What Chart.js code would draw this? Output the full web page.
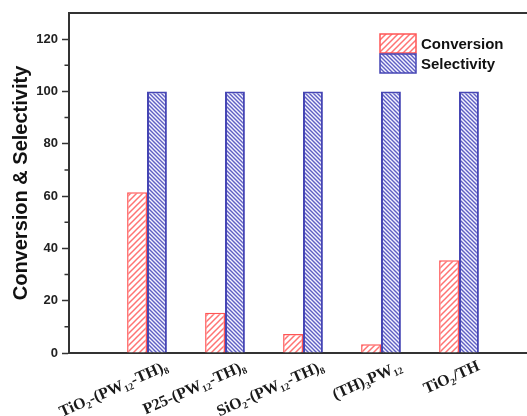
<!DOCTYPE html>
<html>
<head>
<meta charset="utf-8">
<script src="https://cdn.jsdelivr.net/npm/chart.js@4"></script>
<style>
  html, body { margin: 0; padding: 0; background: #fff; overflow: hidden; }
  canvas { display: block; }
</style>
</head>
<body>
<canvas id="c" width="545" height="416"></canvas>
<script>
// Catalysts compared
const categories = [
  'TiO\u2082-(PW\u2081\u2082-TH)\u2088',
  'P25-(PW\u2081\u2082-TH)\u2088',
  'SiO\u2082-(PW\u2081\u2082-TH)\u2088',
  '(TH)\u2083PW\u2081\u2082',
  'TiO\u2082/TH'
];
// Conversion and selectivity, %
const conversion = [61.5, 15.4, 7.3, 3.3, 35.5];
const selectivity = [100, 100, 100, 100, 100];
// Labelled y ticks
const yTicks = [0, 20, 40, 60, 80, 100, 120];
const yMinorTicks = [10, 30, 50, 70, 90, 110];

const canvas = document.getElementById('c');
const ctx = canvas.getContext('2d');

// Diagonal hatch fill
function hatch(fg, bg, size, lw, dir) {
  const c = document.createElement('canvas');
  c.width = c.height = size;
  const g = c.getContext('2d');
  g.fillStyle = bg;
  g.fillRect(0, 0, size, size);
  g.strokeStyle = fg;
  g.lineWidth = lw;
  g.beginPath();
  if (dir === '/') {
    g.moveTo(0, size); g.lineTo(size, 0);
    g.moveTo(-size / 2, size / 2); g.lineTo(size / 2, -size / 2);
    g.moveTo(size / 2, size * 1.5); g.lineTo(size * 1.5, size / 2);
  } else {
    g.moveTo(0, 0); g.lineTo(size, size);
    g.moveTo(-size / 2, size / 2); g.lineTo(size / 2, size * 1.5);
    g.moveTo(size / 2, -size / 2); g.lineTo(size * 1.5, size / 2);
  }
  g.stroke();
  return ctx.createPattern(c, 'repeat');
}

const redFill = hatch('rgb(255,115,115)', '#ffffff', 6, 1.5, '/');
const blueFill = hatch('rgb(95,95,195)', '#f4f4ff', 4, 1.4, '\\');

const AXIS = '#333333';

// Frame, minor ticks and legend
const decorations = {
  id: 'decorations',
  afterDraw(chart) {
    const { ctx, chartArea: a, scales } = chart;
    ctx.save();
    ctx.strokeStyle = AXIS;
    ctx.lineWidth = 2;
    ctx.beginPath();
    ctx.moveTo(a.left, a.top);
    ctx.lineTo(a.right, a.top);
    ctx.lineTo(a.right, a.bottom);
    ctx.stroke();

    ctx.lineWidth = 1.5;
    ctx.beginPath();
    yMinorTicks.forEach(v => {
      const y = scales.y.getPixelForValue(v);
      ctx.moveTo(a.left - 4.5, y);
      ctx.lineTo(a.left, y);
    });
    ctx.stroke();

    // legend
    const bx = 380, bw = 36, bh = 19;
    const tops = [34, 54];
    chart.data.datasets.forEach((ds, i) => {
      const y = tops[i];
      ctx.fillStyle = ds.backgroundColor;
      ctx.fillRect(bx, y, bw, bh);
      ctx.strokeStyle = ds.borderColor;
      ctx.lineWidth = 1.5;
      ctx.strokeRect(bx, y, bw, bh);
      ctx.fillStyle = '#111';
      ctx.font = 'bold 15px "Liberation Sans", Arial, sans-serif';
      ctx.textBaseline = 'middle';
      ctx.textAlign = 'left';
      ctx.fillText(ds.label, bx + bw + 5, y + bh / 2 + 1);
    });
    ctx.restore();
  }
};

new Chart(ctx, {
  type: 'bar',
  data: {
    datasets: [
      {
        label: 'Conversion',
        data: conversion.map((v, i) => ({ x: i + 1, y: v })),
        backgroundColor: redFill,
        borderColor: 'rgb(255,85,85)',
        borderWidth: 1.5
      },
      {
        label: 'Selectivity',
        data: selectivity.map((v, i) => ({ x: i + 1, y: v })),
        backgroundColor: blueFill,
        borderColor: 'rgb(70,70,180)',
        borderWidth: 2
      }
    ]
  },
  options: {
    responsive: false,
    animation: false,
    layout: { padding: { top: 13, right: 8, left: 0, bottom: 0 } },
    datasets: { bar: { categoryPercentage: 0.51, barPercentage: 1.0 } },
    plugins: { legend: { display: false }, tooltip: { enabled: false } },
    scales: {
      x: {
        type: 'linear',
        offset: false,
        min: 0,
        max: 6,
        afterBuildTicks(scale) {
          scale.ticks = categories.map((c, i) => ({ value: i + 1 }));
        },
        afterFit(scale) { scale.height = 63; },
        grid: { display: false, drawTicks: false },
        border: { display: true, color: AXIS, width: 2 },
        ticks: {
          autoSkip: false,
          minRotation: 24,
          maxRotation: 24,
          padding: 4,
          labelOffset: 20,
          color: '#1a1a1a',
          font: { family: '"Liberation Serif", "Times New Roman", serif', weight: 'bold', size: 16 },
          callback: v => categories[v - 1] || ''
        }
      },
      y: {
        min: 0,
        max: 130,
        afterBuildTicks(scale) {
          scale.ticks = yTicks.map(v => ({ value: v }));
        },
        afterFit(scale) { scale.width = 69; },
        grid: { drawOnChartArea: false, drawTicks: true, tickLength: 7, tickColor: AXIS, tickWidth: 1.5 },
        border: { display: true, color: AXIS, width: 2 },
        ticks: {
          padding: 4,
          color: '#222',
          font: { family: '"Liberation Sans", Arial, sans-serif', weight: 'bold', size: 13 }
        },
        title: {
          display: true,
          text: 'Conversion & Selectivity',
          color: '#111',
          padding: { top: 9, bottom: 0 },
          font: { family: '"Liberation Sans", Arial, sans-serif', weight: 'bold', size: 20 }
        }
      }
    }
  },
  plugins: [decorations]
});
</script>
</body>
</html>
